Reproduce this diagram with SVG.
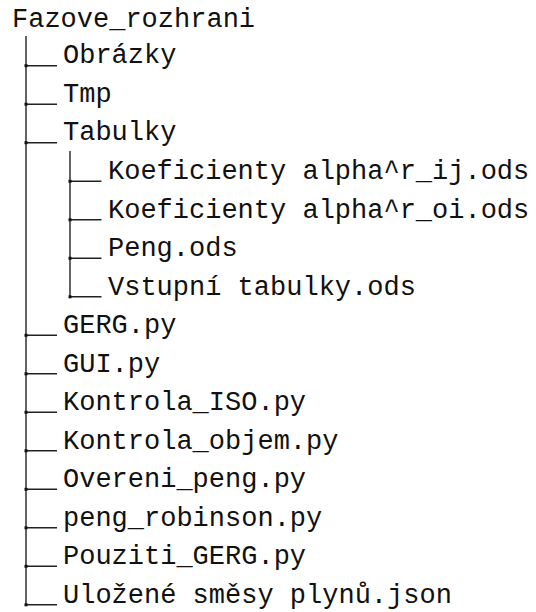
<svg xmlns="http://www.w3.org/2000/svg" width="536" height="612" viewBox="0 0 536 612">
<style>
text{font-family:"Liberation Mono","DejaVu Sans Mono",monospace;font-size:27px;fill:#111}
.l{stroke:#222;stroke-width:1.4;fill:none}
.d{fill:#111}
</style>
<rect width="536" height="612" fill="#fff"/>
<g id="connectors">
<line class="l" x1="26" y1="36" x2="26" y2="605.5"/>
<line class="l" x1="70" y1="151" x2="70" y2="297"/>
<path class="l" d="M26 65.7H57M26 104.2H57M26 142.7H57M70 181.3H101.5M70 219.8H101.5M70 258.3H101.5M70 296.8H101.5M26 335.3H57M26 373.8H57M26 412.3H57M26 450.8H57M26 489.3H57M26 527.8H57M26 566.3H57M26 604.8H57"/>
<g class="d">
<rect x="24.5" y="64.2" width="3" height="3"/>
<rect x="24.5" y="102.7" width="3" height="3"/>
<rect x="24.5" y="141.2" width="3" height="3"/>
<rect x="68.5" y="179.8" width="3" height="3"/>
<rect x="68.5" y="218.3" width="3" height="3"/>
<rect x="68.5" y="256.8" width="3" height="3"/>
<rect x="68.5" y="295.3" width="3" height="3"/>
<rect x="24.5" y="333.8" width="3" height="3"/>
<rect x="24.5" y="372.3" width="3" height="3"/>
<rect x="24.5" y="410.8" width="3" height="3"/>
<rect x="24.5" y="449.3" width="3" height="3"/>
<rect x="24.5" y="487.8" width="3" height="3"/>
<rect x="24.5" y="526.3" width="3" height="3"/>
<rect x="24.5" y="564.8" width="3" height="3"/>
<rect x="24.5" y="603.3" width="3" height="3"/>
</g>
</g>
<g id="root"><text x="12" y="27">Fazove_rozhrani</text></g>
<g id="obrazky"><text x="63" y="63.4">Obrázky</text></g>
<g id="tmp"><text x="63" y="101.9">Tmp</text></g>
<g id="tabulky"><text x="63" y="140.4">Tabulky</text></g>
<g id="koef_ij"><text x="108" y="179">Koeficienty alpha^r_ij.ods</text></g>
<g id="koef_oi"><text x="108" y="217.5">Koeficienty alpha^r_oi.ods</text></g>
<g id="peng_ods"><text x="108" y="256">Peng.ods</text></g>
<g id="vstupni"><text x="108" y="294.5">Vstupní tabulky.ods</text></g>
<g id="gerg"><text x="63" y="333">GERG.py</text></g>
<g id="gui"><text x="63" y="371.5">GUI.py</text></g>
<g id="kontrola_iso"><text x="63" y="410">Kontrola_ISO.py</text></g>
<g id="kontrola_objem"><text x="63" y="448.5">Kontrola_objem.py</text></g>
<g id="overeni"><text x="63" y="487">Overeni_peng.py</text></g>
<g id="peng_robinson"><text x="63" y="525.5">peng_robinson.py</text></g>
<g id="pouziti"><text x="63" y="564">Pouziti_GERG.py</text></g>
<g id="ulozene"><text x="63" y="602.5">Uložené směsy plynů.json</text></g>
</svg>
